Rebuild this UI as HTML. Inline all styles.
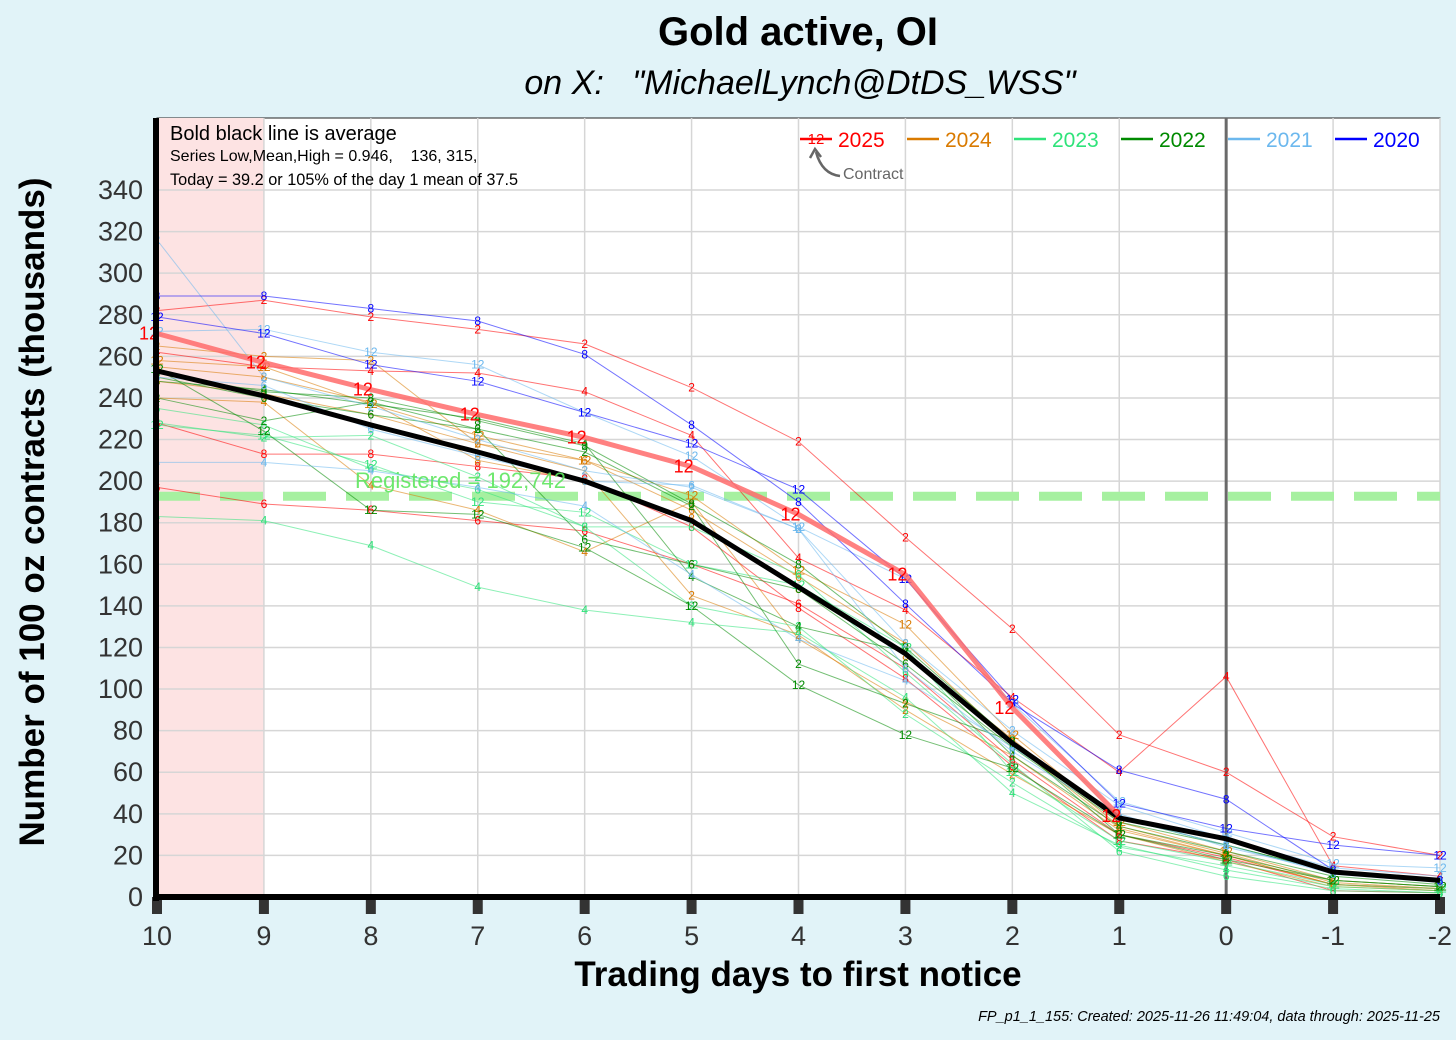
<!DOCTYPE html>
<html><head><meta charset="utf-8">
<style>
html,body{margin:0;padding:0;background:#e1f3f8;}
svg{display:block;font-family:"Liberation Sans",Arial,sans-serif;}
text{white-space:pre;}
</style></head>
<body>
<svg id="chart" width="1456" height="1040" viewBox="0 0 1456 1040" xmlns="http://www.w3.org/2000/svg" xml:space="preserve">
<rect x="0" y="0" width="1456" height="1040" fill="#e1f3f8"/>
<text x="798" y="45" text-anchor="middle" font-size="40" font-weight="bold">Gold active, OI</text>
<text x="800" y="94" text-anchor="middle" font-size="34" font-style="italic">on X:   "MichaelLynch@DtDS_WSS"</text>
<g id="plot"></g>
<text x="798" y="986" text-anchor="middle" font-size="35" font-weight="bold">Trading days to first notice</text>
<text transform="translate(44,512) rotate(-90)" text-anchor="middle" font-size="35" font-weight="bold">Number of 100 oz contracts (thousands)</text>
<text x="1440" y="1021" text-anchor="end" font-size="14.5" font-style="italic">FP_p1_1_155: Created: 2025-11-26 11:49:04, data through: 2025-11-25</text>
</svg>
<script>
const days = [10,9,8,7,6,5,4,3,2,1,0,-1,-2];
const yTicks = [0,20,40,60,80,100,120,140,160,180,200,220,240,260,280,300,320,340];
const xTickLabels = ["10","9","8","7","6","5","4","3","2","1","0","-1","-2"];
const seriesYears = ["2025","2025","2025","2025","2024","2024","2024","2024","2024","2023","2023","2023","2023","2022","2022","2022","2022","2022","2021","2021","2021","2021","2020","2020"];
const seriesMonths = ["2","4","6","8","2","12","6","4","8","4","2","12","6","2","12","8","4","6","12","2","4","6","8","12"];
const s0 = [282,287,279,273,266,245,219,173,129,78,60,29,20];
const s1 = [262,255,253,252,243,222,163,138,96,60,106,15,10];
const s2 = [197,189,186,181,176,160,141,110,66,30,19,6,4];
const s3 = [228,213,213,207,201,178,139,105,63,27,18,3,2];
const s4 = [265,260,258,218,205,145,126,90,59,30,17,5,3];
const s5 = [258,255,237,222,210,193,157,131,78,36,22,8,5];
const s6 = [248,242,232,218,210,186,154,122,74,33,20,6,4];
const s7 = [240,238,198,186,166,190,124,94,68,32,20,6,3];
const s8 = [255,250,238,210,200,182,148,116,76,34,21,7,4];
const s9 = [183,181,169,149,138,132,127,96,50,25,13,4,2];
const s10 = [228,221,222,202,178,140,130,88,55,24,15,5,3];
const s11 = [227,222,208,190,185,160,150,120,60,27,17,6,4];
const s12 = [235,227,206,196,178,178,155,108,64,22,10,3,2];
const s13 = [240,229,238,225,214,188,112,93,75,30,20,8,5];
const s14 = [254,224,186,184,168,140,102,78,62,30,18,8,5];
const s15 = [252,243,240,229,217,189,160,120,75,38,25,12,8];
const s16 = [248,244,237,230,218,154,130,118,68,34,22,10,6];
const s17 = [250,240,232,225,172,160,148,112,72,36,25,12,8];
const s18 = [272,273,262,256,233,212,178,153,93,46,31,16,14];
const s19 = [316,250,236,220,205,197,177,122,80,44,28,14,10];
const s20 = [209,209,205,197,188,155,124,104,72,40,24,12,8];
const s21 = [250,246,225,212,200,198,177,110,70,38,25,11,7];
const s22 = [289,289,283,277,261,227,190,141,93,61,47,13,8];
const s23 = [279,271,256,248,233,218,196,153,95,45,33,25,20];
const seriesValues = [s0,s1,s2,s3,s4,s5,s6,s7,s8,s9,s10,s11,s12,s13,s14,s15,s16,s17,s18,s19,s20,s21,s22,s23];
const current = [271,257,244,232,221,207,184,155,91,39];
const average = [253,241,227,214,200,181,149,117,74,38,28,12,8];
const registered = [192.742];
const legendYears = ["2025","2024","2023","2022","2021","2020"];

const yearColor = {"2025":"#ff0000","2024":"#d97a00","2023":"#2fe37a","2022":"#008a00","2021":"#6cb8ee","2020":"#0000ff"};
const L=157,R=1440,T=118,B=897;
const xs = d => L + (10-d)*(R-L)/12;
const ys = v => B - v*(B-190)/340;
const NS="http://www.w3.org/2000/svg";
const plot=document.getElementById('plot');
function mk(tag,attrs,parent){const e=document.createElementNS(NS,tag);for(const k in attrs)e.setAttribute(k,attrs[k]);(parent||plot).appendChild(e);return e;}

let e;
e=mk('rect',{x:L,y:T,width:R-L,height:B-T,fill:'#ffffff',stroke:'#222','stroke-width':1});


e=mk('rect',{x:L,y:T,width:xs(9)-L,height:B-T,fill:'#fde3e3'});


yTicks.forEach(t=>{
  const g=mk('line',{x1:L,x2:R,y1:ys(t),y2:ys(t),stroke:'#d6d6d6','stroke-width':1.5});
  
  
  const lb=mk('text',{x:143,y:ys(t)+9,'text-anchor':'end','font-size':27,fill:'#333'});
  lb.textContent=t;
  
  
});
days.forEach((d,i)=>{
  const g=mk('line',{x1:xs(d),x2:xs(d),y1:T,y2:B,stroke:'#d6d6d6','stroke-width':1.5});
  
  
  const tk=mk('rect',{x:xs(d)-5,y:B,width:10,height:17,fill:'#333'});
  
  
  const lb=mk('text',{x:xs(d),y:945,'text-anchor':'middle','font-size':27,fill:'#333'});
  lb.textContent=xTickLabels[i];
  
  
});
e=mk('line',{x1:xs(0),x2:xs(0),y1:T,y2:B,stroke:'#6a6a6a','stroke-width':3});


e=mk('line',{x1:L,x2:R,y1:ys(registered[0]),y2:ys(registered[0]),stroke:'#a6f0a0','stroke-width':9,'stroke-dasharray':'43,20'});



function pts(arr){return arr.map((v,i)=>xs(days[i])+','+ys(v)).join(' ');}
seriesValues.forEach((arr,si)=>{
  const c=yearColor[seriesYears[si]];
  const pl=mk('polyline',{points:pts(arr),fill:'none',stroke:c,'stroke-width':1,'stroke-opacity':0.55});
  
  
});
seriesValues.forEach((arr,si)=>{
  const c=yearColor[seriesYears[si]];
  arr.forEach((v,i)=>{
    const t=mk('text',{x:xs(days[i]),y:ys(v)+4,'text-anchor':'middle','font-size':12,fill:c});
    t.textContent=seriesMonths[si];
    
    
  });
});
e=mk('polyline',{points:pts(average),fill:'none',stroke:'#000','stroke-width':5,'stroke-linejoin':'round'});


e=mk('polyline',{points:pts(current),fill:'none',stroke:'#ff6b6b','stroke-width':5,'stroke-opacity':0.85});


current.forEach((v,i)=>{
  const t=mk('text',{x:xs(days[i])-8,y:ys(v)+6,'text-anchor':'middle','font-size':18,fill:'#ff0000'});
  t.textContent='12';
  
  
});
e=mk('text',{x:355,y:488,'font-size':22,fill:'#5ee65e','fill-opacity':0.9});
e.textContent='Registered = 192,742';



e=mk('rect',{x:L-4,y:T,width:6,height:B-T+4,fill:'#000'});


e=mk('rect',{x:L-4,y:B-3,width:R-L+4,height:6,fill:'#000'});



e=mk('text',{x:170,y:140,'font-size':20});
e.textContent='Bold black line is average';


e=mk('text',{x:170,y:161,'font-size':16});
e.textContent='Series Low,Mean,High = 0.946,    136, 315,';


e=mk('text',{x:170,y:185,'font-size':16.3});
e.textContent='Today = 39.2 or 105% of the day 1 mean of 37.5';



legendYears.forEach((yr,i)=>{
  const x0=800+i*107;
  const ln=mk('line',{x1:x0,x2:x0+32,y1:139,y2:139,stroke:yearColor[yr],'stroke-width':2.5});
  
  
  const t=mk('text',{x:x0+38,y:147,'font-size':21,fill:yearColor[yr]});
  t.textContent=yr;
  
  
});
e=mk('text',{x:816,y:144,'text-anchor':'middle','font-size':15,fill:'#ff0000'});
e.textContent='12';


e=mk('path',{d:'M840,176 Q822,174 816,152',fill:'none',stroke:'#666','stroke-width':2.5});


e=mk('path',{d:'M810,158 L815,149 L821,157',fill:'none',stroke:'#666','stroke-width':2.5});


e=mk('text',{x:843,y:179,'font-size':16,fill:'#666'});
e.textContent='Contract';


</script>
</body></html>
